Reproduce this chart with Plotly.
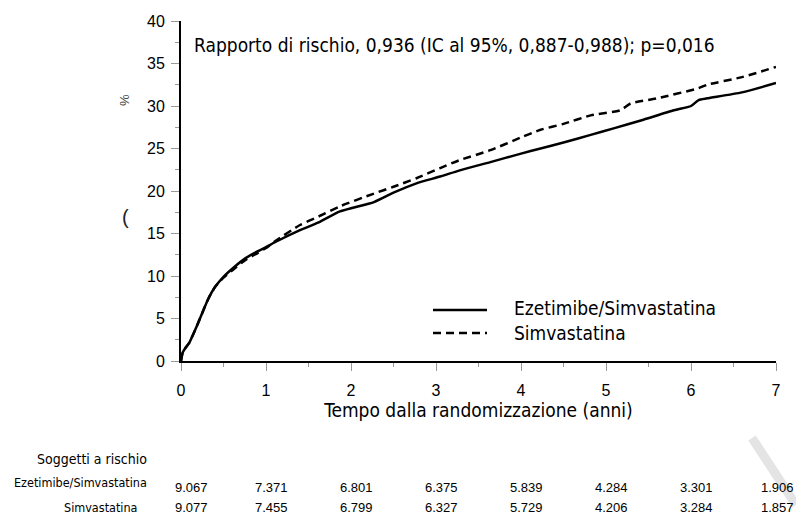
import plotly.graph_objects as go

# ---- data ----
t_eze = [0, 0.02, 0.05, 0.1, 0.19, 0.32, 0.4, 0.5, 0.62, 0.76, 0.9, 1.0, 1.11, 1.4, 1.62, 1.87,
         2.27, 2.5, 2.77, 3.05, 3.27, 3.64, 4.0, 4.23, 4.5, 4.82, 5.1, 5.41, 5.8, 6.0, 6.09, 6.19,
         6.6, 7.0]
v_eze = [0, 1.0, 1.5, 2.2, 4.2, 7.3, 8.7, 9.9, 11.0, 12.1, 12.9, 13.4, 14.0, 15.4, 16.3, 17.6,
         18.7, 19.8, 20.9, 21.7, 22.4, 23.4, 24.4, 25.0, 25.7, 26.6, 27.4, 28.3, 29.5, 30.0, 30.7,
         30.9, 31.6, 32.7]
t_sim = [0, 0.02, 0.05, 0.1, 0.19, 0.32, 0.4, 0.5, 0.62, 0.76, 0.9, 1.0, 1.11, 1.4, 1.62, 1.87,
         2.27, 2.5, 2.77, 3.05, 3.27, 3.64, 4.0, 4.23, 4.5, 4.82, 5.17, 5.29, 5.6, 6.09, 6.19,
         6.6, 7.0]
v_sim = [0, 1.0, 1.5, 2.2, 4.2, 7.3, 8.7, 9.8, 10.8, 11.9, 12.7, 13.3, 14.1, 16.0, 17.0, 18.2,
         19.7, 20.5, 21.5, 22.7, 23.6, 24.8, 26.3, 27.2, 27.9, 28.9, 29.5, 30.3, 30.9, 32.1, 32.5,
         33.4, 34.6]

years = [0, 1, 2, 3, 4, 5, 6, 7]
risk_eze = ["9.067", "7.371", "6.801", "6.375", "5.839", "4.284", "3.301", "1.906"]
risk_sim = ["9.077", "7.455", "6.799", "6.327", "5.729", "4.206", "3.284", "1.857"]

name_eze = "Ezetimibe/Simvastatina"
name_sim = "Simvastatina"
title_txt = "Rapporto di rischio, 0,936 (IC al 95%, 0,887-0,988); p=0,016"
xtitle = "Tempo dalla randomizzazione (anni)"

COND = "DejaVu Sans Condensed, Liberation Sans Narrow, DejaVu Sans, sans-serif"
ARIAL = "Liberation Sans, Arial, sans-serif"

# plot area in pixels
L, R, T, B = 181, 776, 21, 361
W, H = 796, 516
def px(x):
    return (x - L) / (R - L)
def py(y):
    return (B - y) / (B - T)

fig = go.Figure()
fig.add_trace(go.Scatter(x=t_eze, y=v_eze, mode="lines", name=name_eze,
                         line=dict(color="black", width=2.5, shape="spline", smoothing=0.6),
                         cliponaxis=False))
fig.add_trace(go.Scatter(x=t_sim, y=v_sim, mode="lines", name=name_sim,
                         line=dict(color="black", width=2.5, dash="8px,5px", shape="spline", smoothing=0.6),
                         cliponaxis=False))

ann = []
ann.append(dict(text=title_txt, xref="paper", yref="paper", x=px(192), y=py(45),
                xanchor="left", yanchor="middle", showarrow=False,
                font=dict(family=COND, size=19, color="black")))
# legend
ann.append(dict(text=name_eze, xref="paper", yref="paper", x=px(512), y=py(308),
                xanchor="left", yanchor="middle", showarrow=False,
                font=dict(family=COND, size=19, color="black")))
ann.append(dict(text=name_sim, xref="paper", yref="paper", x=px(512), y=py(333),
                xanchor="left", yanchor="middle", showarrow=False,
                font=dict(family=COND, size=19, color="black")))
# risk table labels
ann.append(dict(text="Soggetti a rischio", xref="paper", yref="paper", x=px(149), y=py(459),
                xanchor="right", yanchor="middle", showarrow=False,
                font=dict(family=COND, size=14, color="black")))
ann.append(dict(text=name_eze, xref="paper", yref="paper", x=px(149), y=py(482),
                xanchor="right", yanchor="middle", showarrow=False,
                font=dict(family=COND, size=12.5, color="black")))
ann.append(dict(text=name_sim, xref="paper", yref="paper", x=px(139), y=py(507),
                xanchor="right", yanchor="middle", showarrow=False,
                font=dict(family=COND, size=12.5, color="black")))
for i, yr in enumerate(years):
    shift = 10 if i == 0 else (1 if i == len(years) - 1 else 5)
    ann.append(dict(text=risk_eze[i], xref="x", yref="paper", x=yr, y=py(487), xshift=shift,
                    xanchor="center", yanchor="middle", showarrow=False,
                    font=dict(family=ARIAL, size=13, color="black")))
    ann.append(dict(text=risk_sim[i], xref="x", yref="paper", x=yr, y=py(507), xshift=shift,
                    xanchor="center", yanchor="middle", showarrow=False,
                    font=dict(family=ARIAL, size=13, color="black")))
# stray glyph artifacts near y axis
ann.append(dict(text="%", xref="paper", yref="paper", x=px(125), y=py(100), textangle=-90,
                xanchor="center", yanchor="middle", showarrow=False,
                font=dict(family=ARIAL, size=13, color="#444")))
ann.append(dict(text="(", xref="paper", yref="paper", x=px(125), y=py(217), textangle=0,
                xanchor="center", yanchor="middle", showarrow=False,
                font=dict(family=ARIAL, size=20, color="#222")))

shapes = [
    dict(type="line", xref="paper", yref="paper", x0=px(433), x1=px(487), y0=py(310), y1=py(310),
         line=dict(color="black", width=2.5)),
    dict(type="line", xref="paper", yref="paper", x0=px(433), x1=px(487), y0=py(333), y1=py(333),
         line=dict(color="black", width=2.5, dash="8px,5px")),
    dict(type="line", xref="paper", yref="paper", x0=px(752), x1=px(796), y0=py(438), y1=py(505),
         line=dict(color="#e4e4e4", width=9)),
]

fig.update_layout(
    width=W, height=H,
    margin=dict(l=L, r=W - R, t=T, b=H - B),
    paper_bgcolor="white", plot_bgcolor="white",
    showlegend=False,
    annotations=ann, shapes=shapes,
    xaxis=dict(range=[0, 7], tickmode="array", tickvals=years, ticktext=[str(y) for y in years],
               showline=True, linecolor="black", linewidth=2, showgrid=False, zeroline=False,
               ticks="outside", ticklen=8, tickcolor="#999", tickwidth=1, ticklabelstandoff=6,
               minor=dict(dtick=0.5, ticklen=4, tickcolor="#999", tickwidth=1, ticks="outside", showgrid=False),
               tickfont=dict(family=ARIAL, size=16, color="black"),
               title=dict(text=xtitle, font=dict(family=COND, size=19, color="black"), standoff=4)),
    yaxis=dict(range=[0, 40], dtick=5,
               showline=True, linecolor="black", linewidth=2, showgrid=False, zeroline=False,
               ticks="outside", ticklen=8, tickcolor="#999", tickwidth=1, ticklabelstandoff=3,
               minor=dict(dtick=2.5, ticklen=4, tickcolor="#999", tickwidth=1, ticks="outside", showgrid=False),
               tickfont=dict(family=ARIAL, size=16, color="black")),
)

fig.write_html("out.html", config={"displayModeBar": False},
               post_script="document.body.style.margin='0';document.body.style.overflow='hidden';")
